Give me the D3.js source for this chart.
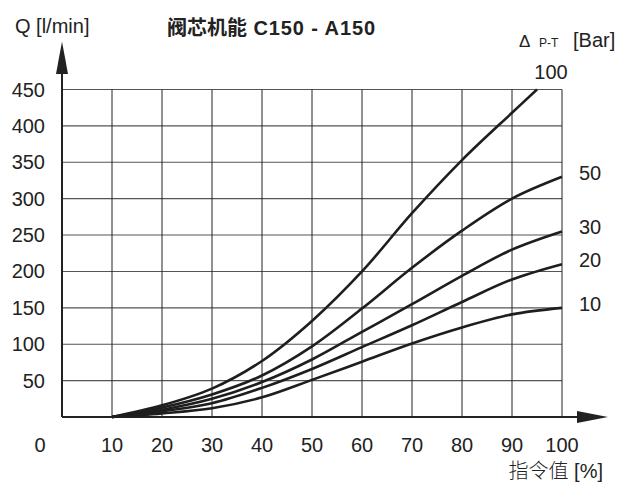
<!DOCTYPE html>
<html>
<head>
<meta charset="utf-8">
<script src="https://cdn.jsdelivr.net/npm/d3@7"></script>
<style>
  body { margin: 0; background: #fff; }
  text { font-family: Arial, "Liberation Sans", "Noto Sans CJK SC", sans-serif; fill: #222; }
  .cjk { font-family: "Noto Sans CJK SC", sans-serif; }
</style>
</head>
<body>
<div id="chart"></div>
<script>
// command signal [%] per point, one set per pressure curve
const ctrlPts = [10, 20, 30, 40, 50, 60, 70, 80, 90, 100]
const ctrlPts100 = [10, 20, 30, 40, 50, 60, 70, 80, 90, 95]

// flow Q [l/min]
const q100 = [0, 16, 39, 77, 132, 200, 280, 353, 418, 450]
const q50 = [0, 13, 31, 57, 97, 149, 205, 256, 300, 330]
const q30 = [0, 10, 25, 48, 79, 117, 155, 194, 230, 255]
const q20 = [0, 8, 19, 40, 66, 96, 126, 158, 189, 210]
const q10 = [0, 5, 12, 27, 51, 76, 101, 123, 141, 150]

const pressureLabels = ["100", "50", "30", "20", "10"]
const xTicks = [10, 20, 30, 40, 50, 60, 70, 80, 90, 100]
const yTicks = [50, 100, 150, 200, 250, 300, 350, 400, 450]

const series = [
  { label: pressureLabels[0], xs: ctrlPts100, ys: q100 },
  { label: pressureLabels[1], xs: ctrlPts, ys: q50 },
  { label: pressureLabels[2], xs: ctrlPts, ys: q30 },
  { label: pressureLabels[3], xs: ctrlPts, ys: q20 },
  { label: pressureLabels[4], xs: ctrlPts, ys: q10 },
]

const width = 631, height = 485

const svg = d3.select("#chart").append("svg")
  .attr("width", width)
  .attr("height", height)

const x = d3.scaleLinear().domain([0, 100]).range([62, 562])
const y = d3.scaleLinear().domain([0, 450]).range([417, 89.5])

// grid
svg.append("g")
  .selectAll("line")
  .data(yTicks)
  .join("line")
  .attr("x1", x(0)).attr("x2", x(100))
  .attr("y1", d => y(d)).attr("y2", d => y(d))
  .attr("stroke", "#555").attr("stroke-width", 1.1)

svg.append("g")
  .selectAll("line")
  .data(xTicks)
  .join("line")
  .attr("x1", d => x(d)).attr("x2", d => x(d))
  .attr("y1", y(0)).attr("y2", y(450))
  .attr("stroke", "#222").attr("stroke-width", 1)

// axes with arrows
svg.append("line")
  .attr("x1", x(0)).attr("x2", x(0))
  .attr("y1", y(0)).attr("y2", 60)
  .attr("stroke", "#222").attr("stroke-width", 2)
svg.append("path")
  .attr("d", `M${x(0)},41.5 L${x(0) - 6},74 L${x(0) + 6},74 Z`)
  .attr("fill", "#222")

svg.append("line")
  .attr("x1", x(0)).attr("x2", 590)
  .attr("y1", y(0)).attr("y2", y(0))
  .attr("stroke", "#222").attr("stroke-width", 2)
svg.append("path")
  .attr("d", `M608,${y(0)} L577,${y(0) - 6} L577,${y(0) + 6} Z`)
  .attr("fill", "#222")

// tick labels
svg.append("g")
  .selectAll("text")
  .data(yTicks)
  .join("text")
  .attr("x", 45)
  .attr("y", d => y(d))
  .attr("dy", "0.35em")
  .attr("text-anchor", "end")
  .style("font-size", "20px")
  .text(d => d)

svg.append("g")
  .selectAll("text")
  .data(xTicks)
  .join("text")
  .attr("x", d => x(d))
  .attr("y", 452)
  .attr("text-anchor", "middle")
  .style("font-size", "20px")
  .text(d => d)

svg.append("text")
  .attr("x", 40).attr("y", 452)
  .attr("text-anchor", "middle")
  .style("font-size", "20px")
  .text("0")

// curves
const line = d3.line()
  .x(d => x(d[0]))
  .y(d => y(d[1]))
  .curve(d3.curveCatmullRom.alpha(0.5))

svg.append("g")
  .selectAll("path")
  .data(series)
  .join("path")
  .attr("d", s => line(s.xs.map((v, i) => [v, s.ys[i]])))
  .attr("fill", "none")
  .attr("stroke", "#1e1e1e")
  .attr("stroke-width", 2.6)

// pressure labels at curve ends
series.forEach((s, i) => {
  const lastX = s.xs[s.xs.length - 1], lastY = s.ys[s.ys.length - 1]
  if (i === 0) {
    svg.append("text")
      .attr("x", x(lastX) + 14).attr("y", y(lastY) - 11)
      .attr("text-anchor", "middle")
      .style("font-size", "20px")
      .text(s.label)
  } else {
    svg.append("text")
      .attr("x", 579).attr("y", y(lastY) - 4)
      .attr("dy", "0.35em")
      .style("font-size", "20px")
      .text(s.label)
  }
})

// titles
svg.append("text")
  .attr("x", 15).attr("y", 33)
  .style("font-size", "20px")
  .text("Q [l/min]")

const title = svg.append("text")
  .attr("x", 167).attr("y", 35)
  .style("font-size", "20px")
  .style("font-weight", "bold")
title.append("tspan").attr("class", "cjk").text("阀芯机能")
title.append("tspan").style("letter-spacing", "0.9px").text(" C150 - A150")

const dp = svg.append("text")
  .attr("x", 519).attr("y", 47)
dp.append("tspan").style("font-size", "17px").text("Δ")
dp.append("tspan").attr("x", 539).style("font-size", "12px").text("P-T")
dp.append("tspan").attr("x", 573).style("font-size", "20px").text("[Bar]")

const xt = svg.append("text")
  .attr("x", 603).attr("y", 478)
  .attr("text-anchor", "end")
  .style("font-size", "20px")
xt.append("tspan").attr("class", "cjk").style("font-weight", "300").text("指令值")
xt.append("tspan").text(" [%]")
</script>
</body>
</html>
